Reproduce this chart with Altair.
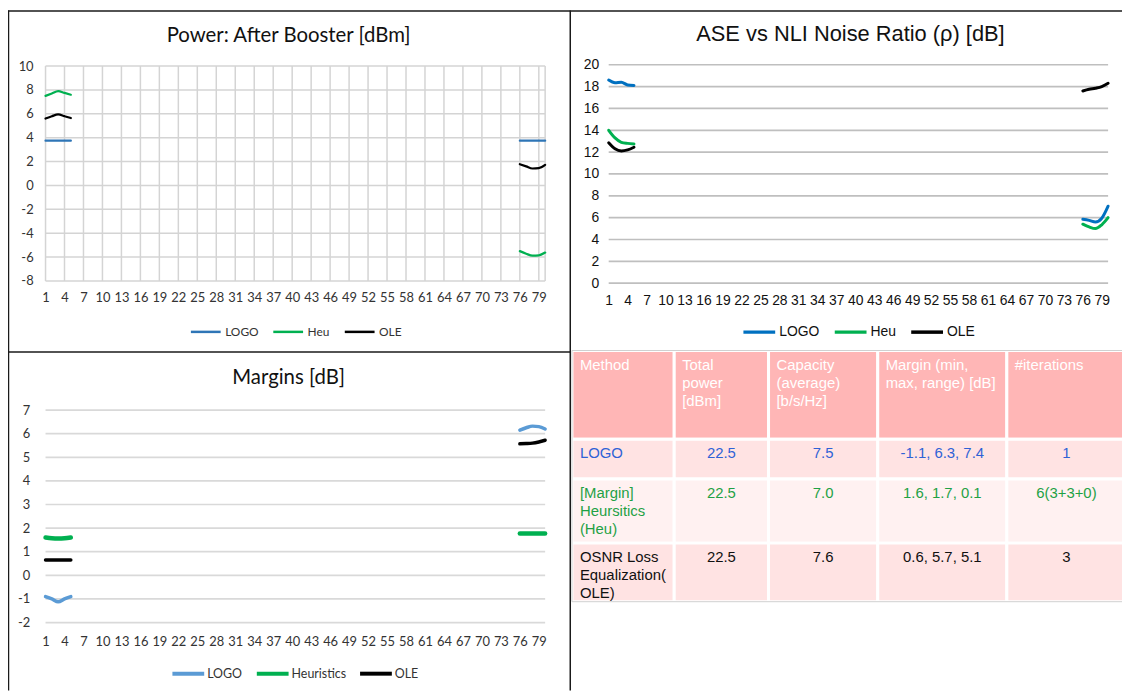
import altair as alt
import pandas as pd

# ---------------- data ----------------
channels = [1, 2, 3, 4, 5, 76, 77, 78, 79, 80]

power_logo = [3.75, 3.75, 3.75, 3.75, 3.75, 3.75, 3.75, 3.75, 3.75, 3.75]
power_heu = [7.5, 7.7, 7.9, 7.75, 7.6, -5.5, -5.72, -5.88, -5.85, -5.62]
power_ole = [5.6, 5.8, 5.95, 5.8, 5.65, 1.78, 1.6, 1.42, 1.45, 1.72]

ase_logo = [18.6, 18.35, 18.4, 18.15, 18.1, 5.85, 5.75, 5.6, 5.95, 7.05]
ase_heu = [14.0, 13.3, 12.9, 12.8, 12.75, 5.4, 5.15, 5.0, 5.35, 6.0]
ase_ole = [12.85, 12.3, 12.1, 12.2, 12.45, 17.6, 17.75, 17.85, 18.0, 18.3]

margin_logo = [-0.9, -1.0, -1.12, -1.0, -0.9, 6.15, 6.25, 6.32, 6.3, 6.2]
margin_heu = [1.6, 1.57, 1.56, 1.57, 1.6, 1.77, 1.77, 1.77, 1.77, 1.77]
margin_ole = [0.65, 0.65, 0.65, 0.65, 0.65, 5.57, 5.58, 5.6, 5.65, 5.72]

x_ticks = list(range(1, 80, 3))
power_y_ticks = list(range(-8, 11, 2))
ase_y_ticks = list(range(0, 21, 2))
margin_y_ticks = list(range(-2, 8, 1))

table_header = ["Method", "Total\npower\n[dBm]", "Capacity\n(average)\n[b/s/Hz]",
                "Margin (min,\nmax, range) [dB]", "#iterations"]
table_methods = ["LOGO", "[Margin]\nHeursitics\n(Heu)", "OSNR Loss\nEqualization(\nOLE)"]
table_power = ["22.5", "22.5", "22.5"]
table_capacity = ["7.5", "7.0", "7.6"]
table_margin = ["-1.1, 6.3, 7.4", "1.6, 1.7, 0.1", "0.6, 5.7, 5.1"]
table_iter = ["1", "6(3+3+0)", "3"]
row_keys = ["head", "LOGO", "Heu", "OLE"]

# ---------------- layout (chart pixel coords) ----------------
W, H = 1122, 685
PW_X, PW_Y = [37.8, 541.0], [272.5, 56.0]
AS_X, AS_Y = [605.0, 1108.0], [274.7, 54.7]
MG_X, MG_Y = [37.8, 541.0], [616.5, 402.5]
COL_EDGES = [568, 671, 766, 876, 1006, 1126]
ROW_EDGES = [342.5, 432, 472, 536.5, 595.5]

LATO = "Lato"
ARIAL = "Liberation Sans"


def long_df(series):
    rows = []
    for name, vals in series:
        for c, v in zip(channels, vals):
            rows.append({"ch": c, "val": v, "method": name, "seg": "a" if c < 40 else "b"})
    return pd.DataFrame(rows)


def panel(series, ydom, xr, yr, colors, widths, yticks, vgrid, font, fsize, lcolor,
          gcolor, gwidth, ylabpad, xlabpad, leg):
    names = [s[0] for s in series]
    df = long_df(series)
    xs = alt.Scale(domain=[1, 80], range=xr, nice=False, zero=False)
    ys = alt.Scale(domain=ydom, range=yr, nice=False, zero=False)
    cs = alt.Scale(domain=names, range=colors)
    layers = []
    hdf = pd.DataFrame({"v": yticks, "x0": 1, "x1": 80})
    layers.append(alt.Chart(hdf).mark_rule(color=gcolor, strokeWidth=gwidth).encode(
        y=alt.Y("v:Q", scale=ys, axis=None),
        x=alt.X("x0:Q", scale=xs, axis=None),
        x2="x1:Q",
    ))
    if vgrid:
        vdf = pd.DataFrame({"v": x_ticks + [80], "y0": ydom[0], "y1": ydom[1]})
        layers.append(alt.Chart(vdf).mark_rule(color=gcolor, strokeWidth=gwidth).encode(
            x=alt.X("v:Q", scale=xs, axis=None),
            y=alt.Y("y0:Q", scale=ys, axis=None),
            y2="y1:Q",
        ))
    xaxis = alt.Axis(orient="bottom", offset=yr[0] - H, values=x_ticks, grid=False,
                     domain=False, ticks=False, labelFont=font, labelFontSize=fsize,
                     labelColor=lcolor, labelPadding=xlabpad, labelAngle=0, labelFlush=False,
                     labelOverlap=False, title=None, labelExpr="toString(datum.value)")
    yaxis = alt.Axis(orient="left", offset=-xr[0], values=yticks, grid=False, domain=False,
                     ticks=False, labelFont=font, labelFontSize=fsize, labelColor=lcolor,
                     labelPadding=ylabpad, title=None, labelExpr="toString(datum.value)")
    legend = alt.Legend(orient="none", legendX=leg["x"], legendY=leg["y"], direction="horizontal",
                        title=None, symbolType="stroke", symbolSize=leg["size"],
                        symbolStrokeWidth=leg["sw"], labelFont=font, labelFontSize=leg["fs"],
                        labelColor=lcolor, columnPadding=leg["pad"], labelOffset=leg["off"])
    if len(set(widths)) == 1:
        groups = [(None, widths[0])]
    else:
        groups = list(zip(names, widths))
    for i, (name, w) in enumerate(groups):
        base = alt.Chart(df)
        if name is not None:
            base = base.transform_filter(alt.datum.method == name)
        layers.append(base.mark_line(interpolate="monotone", strokeWidth=w, strokeCap="round").encode(
            x=alt.X("ch:Q", scale=xs, axis=xaxis if i == 0 else None),
            y=alt.Y("val:Q", scale=ys, axis=yaxis if i == 0 else None),
            color=alt.Color("method:N", scale=cs, legend=legend if i == 0 else None),
            detail="seg:N",
        ))
    return layers


power = panel([("LOGO", power_logo), ("Heu", power_heu), ("OLE", power_ole)], [-8, 10], PW_X, PW_Y,
              ["#2E75B6", "#00B050", "#000000"], [2.25, 2.25, 2.25], power_y_ticks, True, LATO, 13,
              "#333333", "#D4D4D4", 1.5, 12.5, 11,
              {"x": 182.7, "y": 307, "size": 900, "sw": 2.5, "fs": 12, "pad": 9, "off": 3})

ase = panel([("LOGO", ase_logo), ("Heu", ase_heu), ("OLE", ase_ole)], [0, 20], AS_X, AS_Y,
            ["#0070C0", "#00B050", "#000000"], [3, 3, 3], ase_y_ticks, False, ARIAL, 14,
            "#111111", "#BFBFBF", 1.75, 10, 10.5,
            {"x": 738.7, "y": 306, "size": 1024, "sw": 3.5, "fs": 14, "pad": 8, "off": 2})

margins = panel([("LOGO", margin_logo), ("Heuristics", margin_heu), ("OLE", margin_ole)], [-2, 7],
                MG_X, MG_Y, ["#5B9BD5", "#00B050", "#000000"], [3.5, 4.5, 3.5], margin_y_ticks,
                False, LATO, 13, "#333333", "#D9D9D9", 1.75, 16, 13,
                {"x": 163.6, "y": 650, "size": 1024, "sw": 4, "fs": 12.5, "pad": 6, "off": 1})

# ---------------- table ----------------
tx = alt.Scale(domain=[0, 1, 2, 3, 4, 5], range=COL_EDGES, nice=False, zero=False)
ty = alt.Scale(domain=[0, 1, 2, 3, 4], range=ROW_EDGES, nice=False, zero=False)

cells = pd.DataFrame([{"c0": c, "c1": c + 1, "r0": r, "r1": r + 1, "row": row_keys[r]}
                      for r in range(4) for c in range(5)])
head_df = pd.DataFrame([{"c": c, "r": 0, "t": table_header[c], "row": "head"} for c in range(5)])
left_df = pd.DataFrame([{"c": 0, "r": r + 1, "t": table_methods[r], "row": row_keys[r + 1]}
                        for r in range(3)])
center_rows = []
for r in range(3):
    for c, col in enumerate([table_power, table_capacity, table_margin, table_iter]):
        center_rows.append({"cm": c + 1.5, "r": r + 1, "t": col[r], "row": row_keys[r + 1]})
center_df = pd.DataFrame(center_rows)

fill_scale = alt.Scale(domain=row_keys, range=["#FFB6B6", "#FFE3E3", "#FFF1F1", "#FFE3E3"])
text_scale = alt.Scale(domain=row_keys, range=["#FFFFFF", "#2F62D6", "#1FA145", "#111111"])

rects = alt.Chart(cells).mark_rect(stroke="white", strokeWidth=3).encode(
    x=alt.X("c0:Q", scale=tx, axis=None), x2="c1:Q",
    y=alt.Y("r0:Q", scale=ty, axis=None), y2="r1:Q",
    color=alt.Color("row:N", scale=fill_scale, legend=None),
)
outline = alt.Chart(pd.DataFrame({"c0": [0], "c1": [5], "r0": [0], "r1": [4]})).mark_rect(
    fillOpacity=0, stroke="#D0D0D0", strokeWidth=1).encode(
    x=alt.X("c0:Q", scale=tx, axis=None), x2="c1:Q",
    y=alt.Y("r0:Q", scale=ty, axis=None), y2="r1:Q",
)


def table_text(df, xfield, align, dx, dy):
    return alt.Chart(df).mark_text(align=align, baseline="alphabetic", dx=dx, dy=dy, lineBreak="\n",
                                   font=ARIAL, fontSize=15, lineHeight=18).encode(
        x=alt.X(xfield + ":Q", scale=tx, axis=None), y=alt.Y("r:Q", scale=ty, axis=None), text="t:N",
        color=alt.Color("row:N", scale=text_scale, legend=None),
    )


table = [rects, outline,
         table_text(head_df, "c", "left", 8, 20),
         table_text(left_df, "c", "left", 8, 19),
         table_text(center_df, "cm", "center", 0, 19)]

# ---------------- titles ----------------
titles = []
for t, cx, cy, f, fs in [("Power: After Booster [dBm]", 282.6, 25.3, LATO, 20.5),
                         ("ASE vs NLI Noise Ratio (ρ) [dB]", 848.5, 23.7, ARIAL, 22),
                         ("Margins [dB]", 282.6, 370.3, LATO, 20.5)]:
    titles.append(alt.Chart(pd.DataFrame({"t": [t]})).mark_text(
        font=f, fontSize=fs, align="center", baseline="middle", color="#111111").encode(
        text="t:N", x=alt.value(cx), y=alt.value(cy)))

# ---------------- frame lines ----------------
frame = []
for x1, x2, y1, y2 in [(0.5, 0.5, 0, H), (0, W, 0.5, 0.5), (566.3, 566.3, 0, H), (0, 566.3, 344, 344)]:
    frame.append(alt.Chart(pd.DataFrame({"k": [0]})).mark_rule(color="#1a1a1a", strokeWidth=1.5).encode(
        x=alt.value(x1), x2=alt.value(x2), y=alt.value(y1), y2=alt.value(y2)))

chart = alt.layer(*power, *ase, *margins, *table, *titles, *frame).resolve_scale(
    x="independent", y="independent", color="independent"
).properties(width=W, height=H, autosize="none", padding=0).configure_view(stroke=None)

chart.save("out.html", embed_options={"renderer": "svg", "actions": False})
